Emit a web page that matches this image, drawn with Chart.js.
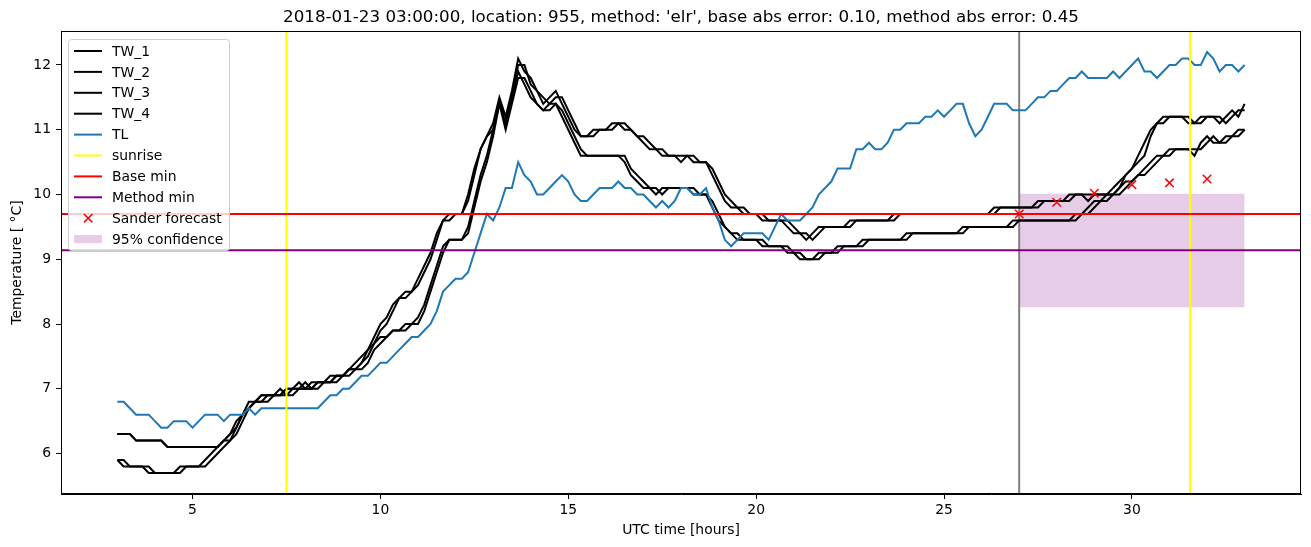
<!DOCTYPE html>
<html>
<head>
<meta charset="utf-8">
<title>TW forecast 955</title>
<script src="https://cdn.jsdelivr.net/npm/chart.js@4.4.0/dist/chart.umd.min.js"></script>
<style>
  html, body { margin: 0; padding: 0; background: #fff; }
  #wrap { width: 1311px; height: 547px; }
</style>
</head>
<body>
<div id="wrap"><canvas id="tempChart" width="1311" height="547"></canvas></div>
<script>
// --- DATA ---
// samples every 10 minutes, starting at 03:00 UTC
const START_HOUR = 3;
const STEP_MINUTES = 10;

const tw1 = [
    6.3, 6.3, 6.3, 6.2, 6.2, 6.2,
    6.2, 6.2, 6.1, 6.1, 6.1, 6.1,
    6.1, 6.1, 6.1, 6.1, 6.1, 6.2,
    6.2, 6.3, 6.5, 6.7, 6.8, 6.9,
    6.9, 6.9, 6.9, 7.0, 7.0, 7.1,
    7.0, 7.1, 7.1, 7.1, 7.1, 7.2,
    7.2, 7.3, 7.3, 7.4, 7.6, 7.7,
    7.9, 8.0, 8.2, 8.4, 8.5, 8.5,
    8.6, 8.8, 9.0, 9.3, 9.6, 9.7,
    9.7, 9.7, 9.9, 10.3, 10.7, 10.9,
    11.1, 11.5, 11.2, 11.6, 12.1, 11.9,
    11.8, 11.6, 11.4, 11.5, 11.6, 11.4,
    11.2, 11.0, 10.9, 10.9, 10.9, 11.0,
    11.0, 11.0, 11.1, 11.1, 11.0, 10.9,
    10.8, 10.7, 10.7, 10.6, 10.6, 10.6,
    10.5, 10.6, 10.6, 10.5, 10.5, 10.3,
    10.1, 9.9, 9.8, 9.8, 9.7, 9.7,
    9.7, 9.6, 9.6, 9.6, 9.6, 9.5,
    9.4, 9.4, 9.3, 9.4, 9.5, 9.5,
    9.5, 9.5, 9.5, 9.6, 9.6, 9.6,
    9.6, 9.6, 9.6, 9.6, 9.6, 9.7,
    9.7, 9.7, 9.7, 9.7, 9.7, 9.7,
    9.7, 9.7, 9.7, 9.7, 9.7, 9.7,
    9.7, 9.7, 9.7, 9.8, 9.8, 9.8,
    9.8, 9.8, 9.8, 9.8, 9.9, 9.9,
    9.9, 9.9, 9.9, 10.0, 10.0, 10.0,
    10.0, 10.0, 10.0, 10.0, 10.1, 10.3,
    10.4, 10.5, 10.6, 10.9, 11.1, 11.1,
    11.2, 11.2, 11.2, 11.2, 11.1, 11.1,
    11.2, 11.2, 11.1, 11.2, 11.3, 11.2,
    11.4
];
const tw2 = [
    6.3, 6.3, 6.3, 6.2, 6.2, 6.2,
    6.2, 6.2, 6.1, 6.1, 6.1, 6.1,
    6.1, 6.1, 6.1, 6.1, 6.1, 6.2,
    6.3, 6.4, 6.6, 6.7, 6.8, 6.8,
    6.9, 6.9, 7.0, 6.9, 7.0, 7.0,
    7.1, 7.0, 7.1, 7.1, 7.2, 7.2,
    7.2, 7.3, 7.4, 7.5, 7.6, 7.8,
    8.0, 8.1, 8.3, 8.4, 8.4, 8.5,
    8.7, 8.9, 9.1, 9.4, 9.6, 9.6,
    9.7, 9.7, 10.0, 10.4, 10.7, 10.9,
    11.0, 11.4, 11.2, 11.5, 12.0, 12.0,
    11.7, 11.6, 11.5, 11.4, 11.5, 11.5,
    11.3, 11.1, 10.9, 10.9, 11.0, 11.0,
    11.0, 11.1, 11.1, 11.0, 11.0, 10.9,
    10.9, 10.8, 10.7, 10.7, 10.6, 10.6,
    10.6, 10.6, 10.5, 10.5, 10.5, 10.4,
    10.2, 10.0, 9.9, 9.8, 9.8, 9.7,
    9.7, 9.7, 9.6, 9.6, 9.6, 9.6,
    9.5, 9.4, 9.4, 9.3, 9.4, 9.5,
    9.5, 9.5, 9.5, 9.5, 9.6, 9.6,
    9.6, 9.6, 9.6, 9.6, 9.7, 9.7,
    9.7, 9.7, 9.7, 9.7, 9.7, 9.7,
    9.7, 9.7, 9.7, 9.7, 9.7, 9.7,
    9.7, 9.7, 9.8, 9.8, 9.8, 9.8,
    9.8, 9.8, 9.8, 9.9, 9.9, 9.9,
    9.9, 9.9, 10.0, 10.0, 10.0, 9.9,
    10.0, 10.0, 10.0, 10.1, 10.2, 10.3,
    10.4, 10.6, 10.8, 11.0, 11.1, 11.2,
    11.2, 11.2, 11.2, 11.1, 11.1, 11.2,
    11.2, 11.2, 11.2, 11.1, 11.2, 11.3,
    11.3
];
const tw3 = [
    5.9, 5.9, 5.8, 5.8, 5.8, 5.8,
    5.7, 5.7, 5.7, 5.7, 5.7, 5.8,
    5.8, 5.8, 5.8, 5.9, 6.0, 6.1,
    6.2, 6.4, 6.6, 6.7, 6.8, 6.8,
    6.8, 6.9, 6.9, 6.9, 6.9, 7.0,
    7.0, 7.0, 7.0, 7.1, 7.1, 7.1,
    7.2, 7.2, 7.3, 7.3, 7.4, 7.6,
    7.7, 7.8, 7.9, 7.9, 7.9, 8.0,
    8.0, 8.2, 8.5, 8.8, 9.1, 9.3,
    9.3, 9.3, 9.4, 9.8, 10.2, 10.5,
    10.9, 11.4, 11.1, 11.5, 11.9, 11.7,
    11.5, 11.4, 11.3, 11.3, 11.4, 11.2,
    11.0, 10.8, 10.6, 10.6, 10.6, 10.6,
    10.6, 10.6, 10.6, 10.5, 10.3, 10.2,
    10.1, 10.1, 10.0, 10.1, 10.1, 10.1,
    10.1, 10.1, 10.0, 10.0, 10.0, 9.8,
    9.6, 9.5, 9.4, 9.3, 9.3, 9.3,
    9.3, 9.2, 9.2, 9.2, 9.2, 9.1,
    9.1, 9.0, 9.0, 9.0, 9.1, 9.1,
    9.1, 9.2, 9.2, 9.2, 9.2, 9.3,
    9.3, 9.3, 9.3, 9.3, 9.3, 9.3,
    9.4, 9.4, 9.4, 9.4, 9.4, 9.4,
    9.4, 9.4, 9.4, 9.5, 9.5, 9.5,
    9.5, 9.5, 9.5, 9.5, 9.5, 9.6,
    9.6, 9.6, 9.6, 9.6, 9.6, 9.6,
    9.6, 9.6, 9.6, 9.7, 9.7, 9.8,
    9.9, 9.9, 10.0, 10.0, 10.1, 10.2,
    10.2, 10.3, 10.4, 10.5, 10.6, 10.6,
    10.7, 10.7, 10.7, 10.7, 10.6, 10.8,
    10.9, 10.8, 10.8, 10.9, 10.9, 11.0,
    11.0
];
const tw4 = [
    5.9, 5.8, 5.8, 5.8, 5.8, 5.7,
    5.7, 5.7, 5.7, 5.7, 5.8, 5.8,
    5.8, 5.8, 5.9, 6.0, 6.1, 6.2,
    6.3, 6.5, 6.6, 6.8, 6.8, 6.9,
    6.9, 6.9, 6.9, 7.0, 7.0, 7.0,
    7.0, 7.0, 7.1, 7.1, 7.1, 7.2,
    7.2, 7.3, 7.3, 7.4, 7.5, 7.7,
    7.8, 7.8, 7.9, 7.9, 8.0, 8.0,
    8.1, 8.3, 8.6, 8.9, 9.2, 9.3,
    9.3, 9.3, 9.5, 9.9, 10.3, 10.6,
    11.0, 11.4, 11.0, 11.4, 11.8, 11.8,
    11.6, 11.4, 11.3, 11.4, 11.4, 11.3,
    11.1, 10.9, 10.7, 10.6, 10.6, 10.6,
    10.6, 10.6, 10.6, 10.6, 10.4, 10.3,
    10.2, 10.1, 10.1, 10.0, 10.1, 10.1,
    10.1, 10.1, 10.1, 10.0, 10.0, 9.9,
    9.7, 9.5, 9.4, 9.4, 9.3, 9.3,
    9.3, 9.3, 9.2, 9.2, 9.2, 9.2,
    9.1, 9.1, 9.0, 9.0, 9.0, 9.1,
    9.1, 9.1, 9.2, 9.2, 9.2, 9.2,
    9.3, 9.3, 9.3, 9.3, 9.3, 9.3,
    9.3, 9.4, 9.4, 9.4, 9.4, 9.4,
    9.4, 9.4, 9.4, 9.4, 9.5, 9.5,
    9.5, 9.5, 9.5, 9.5, 9.5, 9.5,
    9.6, 9.6, 9.6, 9.6, 9.6, 9.6,
    9.6, 9.6, 9.6, 9.6, 9.7, 9.7,
    9.8, 9.9, 9.9, 10.0, 10.0, 10.1,
    10.2, 10.3, 10.3, 10.4, 10.5, 10.6,
    10.6, 10.7, 10.7, 10.7, 10.7, 10.7,
    10.8, 10.9, 10.8, 10.8, 10.9, 10.9,
    11.0
];
const tl = [
    6.8, 6.8, 6.7, 6.6, 6.6, 6.6,
    6.5, 6.4, 6.4, 6.5, 6.5, 6.5,
    6.4, 6.5, 6.6, 6.6, 6.6, 6.5,
    6.6, 6.6, 6.6, 6.7, 6.6, 6.7,
    6.7, 6.7, 6.7, 6.7, 6.7, 6.7,
    6.7, 6.7, 6.7, 6.8, 6.9, 6.9,
    7.0, 7.0, 7.1, 7.2, 7.2, 7.3,
    7.4, 7.4, 7.5, 7.6, 7.7, 7.8,
    7.8, 7.9, 8.0, 8.2, 8.5, 8.6,
    8.7, 8.7, 8.8, 9.1, 9.4, 9.7,
    9.6, 9.8, 10.1, 10.1, 10.5, 10.3,
    10.2, 10.0, 10.0, 10.1, 10.2, 10.3,
    10.2, 10.0, 9.9, 9.9, 10.0, 10.1,
    10.1, 10.1, 10.2, 10.1, 10.1, 10.0,
    10.0, 9.9, 9.8, 9.9, 9.8, 9.9,
    10.1, 10.1, 10.0, 10.0, 10.1, 9.8,
    9.6, 9.3, 9.2, 9.3, 9.4, 9.4,
    9.4, 9.4, 9.3, 9.5, 9.7, 9.6,
    9.6, 9.6, 9.7, 9.8, 10.0, 10.1,
    10.2, 10.4, 10.4, 10.4, 10.7, 10.7,
    10.8, 10.7, 10.7, 10.8, 11.0, 11.0,
    11.1, 11.1, 11.1, 11.2, 11.2, 11.3,
    11.2, 11.3, 11.4, 11.4, 11.1, 10.9,
    11.0, 11.2, 11.4, 11.4, 11.4, 11.3,
    11.3, 11.3, 11.4, 11.5, 11.5, 11.6,
    11.6, 11.7, 11.8, 11.8, 11.9, 11.8,
    11.8, 11.8, 11.8, 11.9, 11.8, 11.9,
    12.0, 12.1, 11.9, 11.9, 11.8, 11.9,
    12.0, 12.0, 12.1, 12.1, 12.0, 12.0,
    12.2, 12.1, 11.9, 12.0, 12.0, 11.9,
    12.0
];

const sunriseHours = [7.5, 31.55];
const forecastStartHour = 27;
const baseMin = 9.7;
const methodMin = 9.14;
const forecastHours = [27, 28, 29, 30, 31, 32];
const forecastTemps = [9.70, 9.88, 10.02, 10.15, 10.18, 10.24];
const confHours = [27, 33];
const confLow = [8.26, 8.26];
const confHigh = [10.01, 10.01];

const xTicks = [5, 10, 15, 20, 25, 30];
const yTicks = [6, 7, 8, 9, 10, 11, 12];
const X_MIN = 1.5, X_MAX = 34.5;
const Y_MIN = 5.375, Y_MAX = 12.525;

const TITLE = "2018-01-23 03:00:00, location: 955, method: 'elr', base abs error: 0.10, method abs error: 0.45";
const FONT = "'DejaVu Sans', sans-serif";
const CONF_FILL = 'rgba(128, 0, 128, 0.2)';

// --- HELPERS ---
function toPoints(values) {
    return values.map((v, i) => ({ x: START_HOUR + i * STEP_MINUTES / 60, y: v }));
}
function vline(h) { return [{ x: h, y: Y_MIN }, { x: h, y: Y_MAX }]; }
function hline(v) { return [{ x: X_MIN, y: v }, { x: X_MAX, y: v }]; }
function pairs(xs, ys) { return xs.map((x, i) => ({ x: x, y: ys[i] })); }

function lineSet(label, data, color, width) {
    return { label, data, borderColor: color, backgroundColor: color, borderWidth: width || 2,
             pointRadius: 0, fill: false, tension: 0 };
}

const legendItems = [
    { label: 'TW_1', type: 'line', color: '#000000' },
    { label: 'TW_2', type: 'line', color: '#000000' },
    { label: 'TW_3', type: 'line', color: '#000000' },
    { label: 'TW_4', type: 'line', color: '#000000' },
    { label: 'TL', type: 'line', color: '#1f77b4' },
    { label: 'sunrise', type: 'line', color: '#ffff00' },
    { label: 'Base min', type: 'line', color: '#ff0000' },
    { label: 'Method min', type: 'line', color: '#800080' },
    { label: 'Sander forecast', type: 'cross', color: '#ff0000' },
    { label: '95% confidence', type: 'patch', color: CONF_FILL }
];

// frame, title and matplotlib-like legend
const decorations = {
    id: 'decorations',
    afterDraw(chart) {
        const ctx = chart.ctx;
        const a = chart.chartArea;
        ctx.save();
        ctx.strokeStyle = '#000';
        ctx.lineWidth = 1;
        ctx.strokeRect(Math.round(a.left) + 0.5, Math.round(a.top) + 0.5,
                       Math.round(a.right - a.left) - 1, Math.round(a.bottom - a.top) - 1);

        ctx.fillStyle = '#000';
        ctx.font = '16.7px ' + FONT;
        ctx.textAlign = 'center';
        ctx.textBaseline = 'middle';
        ctx.fillText(TITLE, (a.left + a.right) / 2, 18);

        // legend box
        const bx = 68.5, by = 39.5, bw = 161, bh = 211, r = 3;
        ctx.beginPath();
        ctx.moveTo(bx + r, by);
        ctx.arcTo(bx + bw, by, bx + bw, by + bh, r);
        ctx.arcTo(bx + bw, by + bh, bx, by + bh, r);
        ctx.arcTo(bx, by + bh, bx, by, r);
        ctx.arcTo(bx, by, bx + bw, by, r);
        ctx.closePath();
        ctx.fillStyle = 'rgba(255,255,255,0.8)';
        ctx.fill();
        ctx.strokeStyle = '#cccccc';
        ctx.stroke();

        ctx.font = '13.9px ' + FONT;
        ctx.textAlign = 'left';
        legendItems.forEach((item, k) => {
            const y = 51 + k * 20.9;
            if (item.type === 'line') {
                ctx.strokeStyle = item.color;
                ctx.lineWidth = 2;
                ctx.beginPath();
                ctx.moveTo(74, y); ctx.lineTo(102, y);
                ctx.stroke();
            } else if (item.type === 'cross') {
                ctx.strokeStyle = item.color;
                ctx.lineWidth = 1.5;
                ctx.beginPath();
                ctx.moveTo(84, y - 4.2); ctx.lineTo(92.4, y + 4.2);
                ctx.moveTo(84, y + 4.2); ctx.lineTo(92.4, y - 4.2);
                ctx.stroke();
            } else {
                ctx.fillStyle = item.color;
                ctx.fillRect(74, y - 4, 28, 8);
            }
            ctx.fillStyle = '#000';
            ctx.fillText(item.label, 112, y + 1);
        });
        ctx.restore();
    }
};

// datasets: first in list is drawn on top
const datasets = [
    {
        label: 'Sander forecast', data: pairs(forecastHours, forecastTemps), showLine: false,
        borderColor: '#ff0000', backgroundColor: '#ff0000', pointStyle: 'crossRot',
        pointRadius: 6, pointBorderWidth: 1.5, pointHoverRadius: 6
    },
    lineSet('Method min', hline(methodMin), '#800080'),
    lineSet('Base min', hline(baseMin), '#ff0000'),
    lineSet('sunrise 2', vline(sunriseHours[1]), '#ffff00'),
    lineSet('sunrise', vline(sunriseHours[0]), '#ffff00'),
    lineSet('TL', toPoints(tl), '#1f77b4'),
    lineSet('TW_4', toPoints(tw4), '#000000'),
    lineSet('TW_3', toPoints(tw3), '#000000'),
    lineSet('TW_2', toPoints(tw2), '#000000'),
    lineSet('TW_1', toPoints(tw1), '#000000'),
    lineSet('forecast start', vline(forecastStartHour), '#808080'),
    { label: 'conf high', data: pairs(confHours, confHigh), borderWidth: 0, pointRadius: 0,
      borderColor: 'rgba(0,0,0,0)', fill: false },
    { label: '95% confidence', data: pairs(confHours, confLow), borderWidth: 0, pointRadius: 0,
      borderColor: 'rgba(0,0,0,0)', backgroundColor: CONF_FILL, fill: '-1' }
];

const axisFont = { family: FONT, size: 13.9 };

new Chart(document.getElementById('tempChart'), {
    type: 'line',
    data: { datasets: datasets },
    plugins: [decorations],
    options: {
        responsive: false,
        animation: false,
        devicePixelRatio: 1,
        layout: { padding: { left: 0, right: 10, top: 31, bottom: 0 } },
        plugins: { legend: { display: false }, tooltip: { enabled: false }, title: { display: false } },
        scales: {
            x: {
                type: 'linear', min: X_MIN, max: X_MAX,
                afterFit: s => { s.height = 53; },
                afterBuildTicks: s => { s.ticks = xTicks.map(v => ({ value: v })); },
                grid: { drawOnChartArea: false, drawTicks: true, tickLength: 5, color: '#000' },
                border: { display: true, color: '#000', width: 1 },
                ticks: { color: '#000', font: axisFont, padding: 3, maxRotation: 0, autoSkip: false,
                         callback: v => String(v) },
                title: { display: true, text: 'UTC time [hours]', color: '#000', font: axisFont,
                         padding: { top: 0, bottom: 8 } }
            },
            y: {
                type: 'linear', min: Y_MIN, max: Y_MAX,
                afterFit: s => { s.width = 61; },
                afterBuildTicks: s => { s.ticks = yTicks.map(v => ({ value: v })); },
                grid: { drawOnChartArea: false, drawTicks: true, tickLength: 5, color: '#000' },
                border: { display: true, color: '#000', width: 1 },
                ticks: { color: '#000', font: axisFont, padding: 5, autoSkip: false,
                         callback: v => String(v) },
                title: { display: true, text: 'Temperature [ \u00b0C]', color: '#000', font: axisFont,
                         padding: { top: 9, bottom: 0 } }
            }
        }
    }
});
</script>
</body>
</html>
